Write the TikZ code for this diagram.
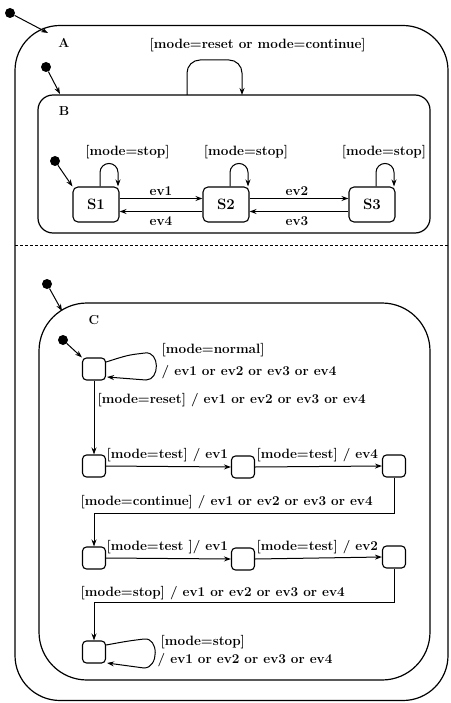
\documentclass[tikz,border=0pt]{standalone}
\usetikzlibrary{arrows.meta,calc}
\begin{document}
\begin{tikzpicture}[x=1pt,y=-1pt,
  arr/.style={-{Stealth[length=7pt,width=5pt]}, line width=1pt},
  initdot/.style={circle, fill, inner sep=0pt, minimum size=10pt},
  sbox/.style={draw, line width=1.1pt, rounded corners=5pt, minimum width=46pt, minimum height=35pt, font=\bfseries\fontsize{15}{16}\selectfont},
  cbox/.style={draw, line width=1.1pt, rounded corners=4pt, minimum width=23pt, minimum height=22pt, inner sep=0pt},
  lbl/.style={font=\bfseries\fontsize{13.5}{15}\selectfont, inner sep=0.5pt},
  ttl/.style={font=\bfseries\fontsize{13}{14}\selectfont, inner sep=0.5pt},
  cont/.style={draw, line width=1.2pt}]
\useasboundingbox (0,0) rectangle (450,703);
% containers
\node[cont, rounded corners=45pt, minimum width=433pt, minimum height=675pt] (A) at (231.5,363) {};
\node[cont, rounded corners=15pt, minimum width=392pt, minimum height=138pt] (B) at (234,164) {};
\node[cont, rounded corners=48pt, minimum width=391pt, minimum height=377pt] (C) at (234.5,491.5) {};
\node[ttl] (lA) at (64,43) {A};
\node[ttl] (lB) at (64,111) {B};
\node[ttl] (lC) at (94,320) {C};
% initial dots
\node[initdot] (i0) at (10,13) {};
\coordinate (a0) at (48,33);
\draw[arr] (i0) -- (a0);
\node[initdot] (iB) at (46,67) {};
\coordinate (b0) at (60,94);
\draw[arr] (iB) -- (b0);
\node[initdot] (iC) at (47,284) {};
\coordinate (c0) at (62,311);
\draw[arr] (iC) -- (c0);
% dashed separator
\coordinate (d1) at (15,245);
\coordinate (d2) at (448,245);
\draw[line width=0.9pt, dash pattern=on 3pt off 2pt] (d1) -- (d2);
% A self loop
\coordinate (la1) at (187,95);
\coordinate (la2) at (242,95);
\draw[arr, rounded corners=13pt] (la1) -- (187,60) -- (242,60) -- (la2);
\node[lbl, anchor=west] (tA) at (149,45) {[mode=reset or mode=continue]};
% B states
\node[sbox] (S1) at (96,204.5) {S1};
\node[sbox] (S2) at (226,204.5) {S2};
\node[sbox] (S3) at (372,204.5) {S3};
\node[initdot] (iS) at (55,161) {};
\draw[arr] (iS) -- (S1.north west);
\foreach \s in {S1,S2,S3}{
  \draw[arr, rounded corners=9pt] ($(\s.north)+(4,0)$) -- ++(0,-23) -- ++(18,0) -- ++(0,23);
}
\node[lbl] (m1) at (127.5,152) {[mode=stop]};
\node[lbl] (m2) at (246,152) {[mode=stop]};
\node[lbl] (m3) at (384,152) {[mode=stop]};
\draw[arr] ($(S1.east)+(0,-6)$) -- ($(S2.west)+(0,-6)$);
\draw[arr] ($(S2.west)+(0,7)$) -- ($(S1.east)+(0,7)$);
\draw[arr] ($(S2.east)+(0,-6)$) -- ($(S3.west)+(0,-6)$);
\draw[arr] ($(S3.west)+(0,7)$) -- ($(S2.east)+(0,7)$);
\node[lbl] (e1) at (161,191) {ev1};
\node[lbl] (e4) at (161,221) {ev4};
\node[lbl] (e2) at (297,191) {ev2};
\node[lbl] (e3) at (297,221) {ev3};
% C states
\node[cbox] (c1) at (94,369) {};
\node[cbox] (c2) at (94,466) {};
\node[cbox] (c3) at (243,467) {};
\node[cbox] (c4) at (394,466) {};
\node[cbox] (c5) at (94,558) {};
\node[cbox] (c6) at (243,559) {};
\node[cbox] (c7) at (394,557) {};
\node[cbox] (c8) at (94,652) {};
\node[initdot] (ic) at (63,340) {};
\draw[arr] (ic) -- (c1.north west);
% c1 loop
\draw[arr] ($(c1.east)+(0,-7)$) .. controls (128,355) .. (145,353) .. controls (160,351) and (160,380) .. (146,380) -- ($(c1.east)+(1,8)$);
\node[lbl, anchor=west] (n1) at (161,350) {[mode=normal]};
\node[lbl, anchor=west] (n2) at (161,372) {/ ev1 or ev2 or ev3 or ev4};
% c1 -> c2
\draw[arr] (c1.south) -- (c2.north);
\node[lbl, anchor=west] (r1) at (97,400) {[mode=reset] / ev1 or ev2 or ev3 or ev4};
% row 2
\draw[arr] (c2.east) -- (c3.west);
\draw[arr] (c3.east) -- (c4.west);
\node[lbl, anchor=west] (t1) at (106,455) {[mode=test] / ev1};
\node[lbl, anchor=west] (t2) at (256,455) {[mode=test] / ev4};
\draw[arr] (c4.south) |- ($(c5.north)+(0,-33)$) -- (c5.north);
\node[lbl, anchor=west] (k1) at (80,502) {[mode=continue] / ev1 or ev2 or ev3 or ev4};
% row 3
\draw[arr] (c5.east) -- (c6.west);
\draw[arr] (c6.east) -- (c7.west);
\node[lbl, anchor=west] (t3) at (106,547) {[mode=test ]/ ev1};
\node[lbl, anchor=west] (t4) at (256,547) {[mode=test] / ev2};
\draw[arr] (c7.south) |- ($(c8.north)+(0,-38)$) -- (c8.north);
\node[lbl, anchor=west] (p1) at (80,593) {[mode=stop] / ev1 or ev2 or ev3 or ev4};
% c8 loop
\draw[arr] ($(c8.east)+(0,-7)$) .. controls (128,641) .. (144,639) .. controls (159,637) and (159,668) .. (144,668) -- ($(c8.east)+(1,11)$);
\node[lbl, anchor=west] (s1) at (160,642) {[mode=stop]};
\node[lbl, anchor=west] (s2) at (157,660) {/ ev1 or ev2 or ev3 or ev4};
\end{tikzpicture}
\end{document}
